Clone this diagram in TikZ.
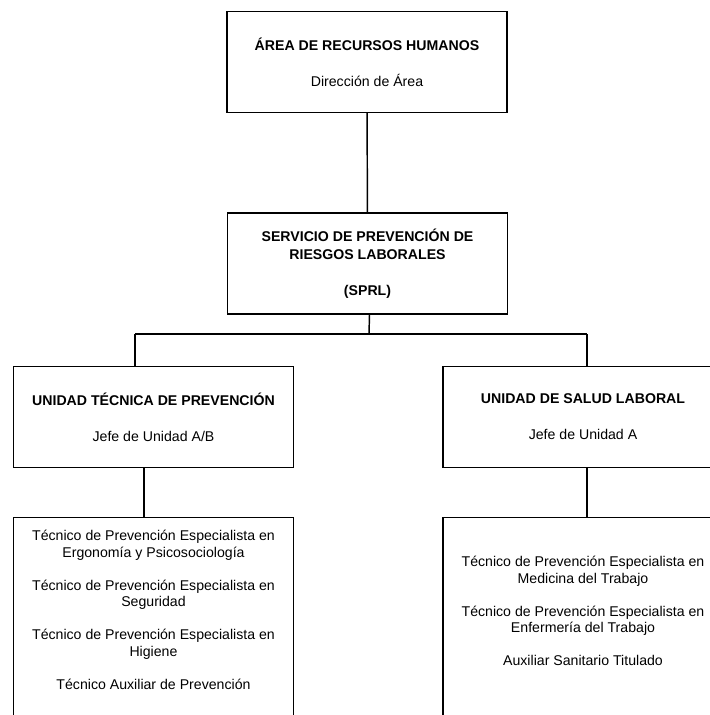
\documentclass[tikz,border=0pt]{standalone}
\usepackage{fontspec}
\setmainfont{Liberation Sans}
\begin{document}
\begin{tikzpicture}
    [
    x=0.75pt,y=-0.75pt,
    line width=1.1pt,
    unitbox/.style={rectangle,draw,inner sep=0pt,minimum width=210pt,minimum height=75.5pt,align=center,font=\fontsize{10.6}{13.5}\selectfont},
    listbox/.style={rectangle,draw,inner sep=0pt,minimum width=210pt,minimum height=220pt,anchor=north},
    listtext/.style={align=center,inner sep=0pt,font=\fontsize{10.6}{12.4}\selectfont}
    ]
    \clip (0,0) rectangle (710,715);
    \node (area) at (367,62) [unitbox] {\textbf{ÁREA DE RECURSOS HUMANOS}\\[13.5pt] Dirección de Área};
    \node (sprl) at (367.5,263.5) [unitbox] {\textbf{SERVICIO DE PREVENCIÓN DE}\\ \textbf{RIESGOS LABORALES}\\[13.5pt] \textbf{(SPRL)}};
    \node (tecnica) at (153.5,417) [unitbox] {\textbf{UNIDAD TÉCNICA DE PREVENCIÓN}\\[13.5pt] Jefe de Unidad A/B};
    \node (salud) at (583,417) [unitbox] {\textbf{UNIDAD DE SALUD LABORAL}\\[13.5pt] Jefe de Unidad A};
    \node (listtec) at (153.5,517) [listbox] {};
    \node (listsal) at (583,517) [listbox] {};
    \node (texttec) at (153.5,610) [listtext] {Técnico de Prevención Especialista en\\ Ergonomía y Psicosociología\\[12.4pt]
      Técnico de Prevención Especialista en\\ Seguridad\\[12.4pt]
      Técnico de Prevención Especialista en\\ Higiene\\[12.4pt]
      Técnico Auxiliar de Prevención};
    \node (textsal) at (583,611) [listtext] {Técnico de Prevención Especialista en\\ Medicina del Trabajo\\[12.4pt]
      Técnico de Prevención Especialista en\\ Enfermería del Trabajo\\[12.4pt]
      Auxiliar Sanitario Titulado};
    \coordinate (bus) at (369,334);
    \coordinate (busl) at (135,334);
    \coordinate (busr) at (587,334);
    \draw (area) to (sprl);
    \draw ([xshift=1.5pt]sprl.south) to (bus);
    \draw (busl) to (busr);
    \draw (busl) to (busl |- tecnica.north);
    \draw (busr) to (busr |- salud.north);
    \draw ([xshift=-7pt]tecnica.south) to ([xshift=-7pt]listtec.north);
    \draw ([xshift=3pt]salud.south) to ([xshift=3pt]listsal.north);
  \end{tikzpicture}
\end{document}
